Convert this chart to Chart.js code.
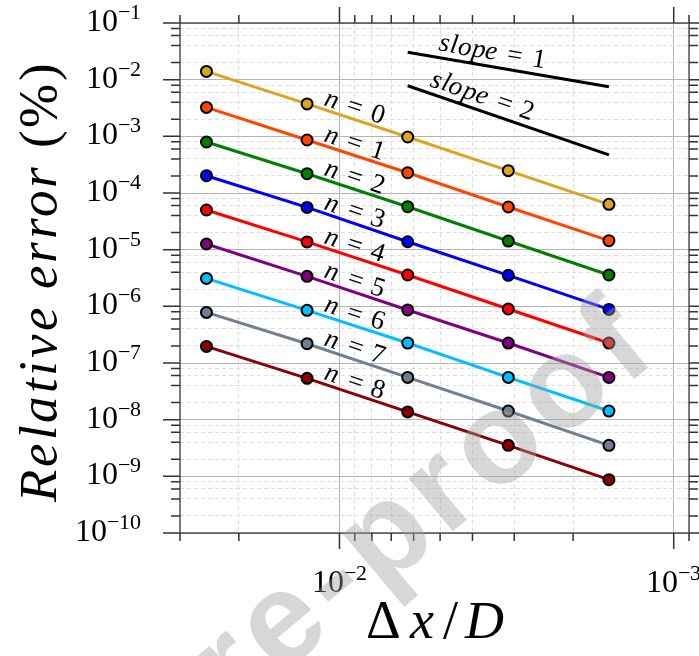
<!DOCTYPE html>
<html>
<head>
<meta charset="utf-8">
<script src="https://cdn.jsdelivr.net/npm/chart.js@4/dist/chart.umd.min.js"></script>
<style>
@font-face { font-family: 'LSerif'; font-style: normal; font-weight: 400;
  src: local('Liberation Serif'), local('LiberationSerif'), local('LiberationSerif-Regular'); }
@font-face { font-family: 'LSerif'; font-style: italic; font-weight: 400;
  src: local('Liberation Serif Italic'), local('LiberationSerif-Italic'); }
@font-face { font-family: 'LSans'; font-style: normal; font-weight: 700;
  src: local('Liberation Sans Bold'), local('LiberationSans-Bold'); }
html,body{margin:0;padding:0;background:#ffffff;}
canvas{display:block;}
#fontwarm{position:absolute;left:-9999px;top:0;}
</style>
</head>
<body>
<canvas id="c" width="699" height="656"></canvas>
<div id="fontwarm">
  <span style="font-family:LSerif">Relative 10 slope</span>
  <span style="font-family:LSerif;font-style:italic">Relative error n slope x D</span>
  <span style="font-family:LSans;font-weight:700">Journal Pre-proof</span>
</div>
<script>
// ---------------- data ----------------
const dxOverD = [0.025, 0.0125, 0.00625, 0.003125, 0.0015625];

const errN0 = [1.40e-2, 3.73e-3, 9.73e-4, 2.48e-4, 6.30e-5];
const errN1 = [3.24e-3, 8.61e-4, 2.28e-4, 5.66e-5, 1.44e-5];
const errN2 = [7.94e-4, 2.19e-4, 5.73e-5, 1.42e-5, 3.57e-6];
const errN3 = [2.02e-4, 5.57e-5, 1.38e-5, 3.52e-6, 8.83e-7];
const errN4 = [5.01e-5, 1.37e-5, 3.57e-6, 8.97e-7, 2.25e-7];
const errN5 = [1.26e-5, 3.38e-6, 8.63e-7, 2.25e-7, 5.57e-8];
const errN6 = [3.11e-6, 8.49e-7, 2.25e-7, 5.57e-8, 1.42e-8];
const errN7 = [7.82e-7, 2.19e-7, 5.57e-8, 1.42e-8, 3.52e-9];
const errN8 = [1.96e-7, 5.36e-8, 1.37e-8, 3.52e-9, 8.73e-10];

const seriesOrders = ['0', '1', '2', '3', '4', '5', '6', '7', '8'];
const seriesErrors = [errN0, errN1, errN2, errN3, errN4, errN5, errN6, errN7, errN8];
const seriesColors = ['#DAA520', '#FF4500', '#008000', '#0000FF', '#FF0000',
                      '#800080', '#00BFFF', '#708090', '#8B0000'];

const slopeX = [0.00625, 0.0015625];
const slope1Y = [3.05e-2, 7.5e-3];
const slope2Y = [7.8e-3, 4.7e-4];
const slopeOrders = ['1', '2'];

const yTickExponents = [-1, -2, -3, -4, -5, -6, -7, -8, -9, -10];
const xTickExponents = [-2, -3];
const yMinorMantissas = [2, 4, 6, 8];
const xMinorMantissas = [2, 3, 4, 5, 6, 7, 8, 9];

const X_MIN = 9e-4, X_MAX = 3e-2;
const Y_MIN = 1e-10, Y_MAX = 1e-1;

// ---------------- helpers ----------------
const SERIF = 'LSerif, "Liberation Serif", "Times New Roman", serif';
const WM_FONT = 'bold 130px LSans, "Liberation Sans", Arial, sans-serif';
const isMajor = v => Math.abs(Math.log10(v) - Math.round(Math.log10(v))) < 1e-6;

function buildLogTicks(min, max, mantissas) {
  const out = [];
  for (let e = Math.floor(Math.log10(min)) - 1; e <= Math.ceil(Math.log10(max)); e++) {
    for (const m of [1, ...mantissas]) {
      const v = m * Math.pow(10, e);
      if (v >= min * 0.999999 && v <= max * 1.000001) out.push(v);
    }
  }
  return out.sort((a, b) => a - b);
}

function drawPieces(ctx, pieces, x, y, angle, align, spacing) {
  ctx.save();
  ctx.translate(x, y);
  ctx.rotate(angle);
  ctx.textBaseline = 'alphabetic';
  ctx.textAlign = 'left';
  ctx.fillStyle = '#000';
  if ('letterSpacing' in ctx) ctx.letterSpacing = (spacing || 0) + 'px';
  const widths = [];
  let total = 0;
  pieces.forEach(p => {
    ctx.font = p.font;
    const w = ctx.measureText(p.text).width;
    widths.push(w);
    total += (p.gap || 0) + w;
  });
  let cur = align === 'center' ? -total / 2 : (align === 'right' ? -total : 0);
  pieces.forEach((p, i) => {
    cur += p.gap || 0;
    ctx.font = p.font;
    ctx.fillText(p.text, cur, p.dy || 0);
    cur += widths[i];
  });
  ctx.restore();
  return total;
}

function labelAlong(ctx, p0, p1, t, offset, pieces) {
  const ang = Math.atan2(p1.y - p0.y, p1.x - p0.x);
  const ax = p0.x + t * (p1.x - p0.x), ay = p0.y + t * (p1.y - p0.y);
  const ux = Math.sin(ang), uy = -Math.cos(ang);
  drawPieces(ctx, pieces, ax + ux * offset, ay + uy * offset, ang, 'center', 0);
}

// ---------------- datasets ----------------
const datasets = seriesErrors.map((arr, i) => ({
  label: 'n = ' + seriesOrders[i],
  data: dxOverD.map((v, j) => ({ x: v, y: arr[j] })),
  showLine: true,
  borderColor: seriesColors[i],
  backgroundColor: seriesColors[i],
  borderWidth: 3,
  pointRadius: 5.5,
  pointBorderWidth: 2,
  pointBorderColor: '#000000',
  pointBackgroundColor: seriesColors[i],
  tension: 0
}));
[slope1Y, slope2Y].forEach((arr, k) => datasets.push({
  label: 'slope = ' + slopeOrders[k],
  data: slopeX.map((v, j) => ({ x: v, y: arr[j] })),
  showLine: true,
  borderColor: '#000000',
  borderWidth: 3,
  pointRadius: 0,
  tension: 0
}));

const gridColor = c => (c.tick && isMajor(c.tick.value)) ? '#b4b4b4' : '#dedede';
const gridDash = c => (c.tick && !isMajor(c.tick.value)) ? [4, 3] : [];

// ---------------- decorations plugin ----------------
const decor = {
  id: 'decor',
  afterDatasetsDraw(chart) {
    const { ctx, chartArea: a, scales: { x, y } } = chart;
    ctx.save();
    ctx.strokeStyle = '#3a3a3a';
    ctx.lineWidth = 1.3;
    ctx.strokeRect(a.left, a.top, a.right - a.left, a.bottom - a.top);
    ctx.lineWidth = 1.5;
    ctx.strokeStyle = '#333';
    buildLogTicks(X_MIN, X_MAX, xMinorMantissas).forEach(v => {
      const px = x.getPixelForValue(v);
      const len = isMajor(v) ? 16 : 8;
      ctx.beginPath();
      ctx.moveTo(px, a.bottom); ctx.lineTo(px, a.bottom + len);
      ctx.moveTo(px, a.top); ctx.lineTo(px, a.top - len);
      ctx.stroke();
    });
    buildLogTicks(Y_MIN, Y_MAX, yMinorMantissas).forEach(v => {
      const py = y.getPixelForValue(v);
      const len = isMajor(v) ? 17 : 9;
      ctx.beginPath();
      ctx.moveTo(a.left, py); ctx.lineTo(a.left - len, py);
      ctx.moveTo(a.right, py); ctx.lineTo(a.right + len, py);
      ctx.stroke();
    });
    ctx.restore();

    // tick labels
    const bigF = '32px ' + SERIF, supF = '22px ' + SERIF;
    yTickExponents.forEach(e => {
      const py = y.getPixelForValue(Math.pow(10, e));
      drawPieces(ctx, [
        { text: '10', font: bigF },
        { text: '\u2212' + Math.abs(e), font: supF, dy: -12 }
      ], 141, py + 8, 0, 'right', 0);
    });
    xTickExponents.forEach(e => {
      const px = x.getPixelForValue(Math.pow(10, e));
      drawPieces(ctx, [
        { text: '10', font: bigF },
        { text: '\u2212' + Math.abs(e), font: supF, dy: -12 }
      ], px, 592, 0, 'center', 0);
    });

    // axis titles
    drawPieces(ctx, [
      { text: 'Relative error', font: 'italic 53px ' + SERIF },
      { text: '(%)', font: '53px ' + SERIF, gap: 16 }
    ], 56, 281, -Math.PI / 2, 'center', 2.6);
    drawPieces(ctx, [
      { text: '\u0394', font: '54px ' + SERIF },
      { text: 'x', font: 'italic 54px ' + SERIF, gap: 9 },
      { text: '/', font: '54px ' + SERIF, gap: 9 },
      { text: 'D', font: 'italic 54px ' + SERIF, gap: 7 }
    ], 435, 638, 0, 'center', 0);

    // series annotations
    const lf = 'italic 27px ' + SERIF, rf = '27px ' + SERIF;
    seriesErrors.forEach((arr, i) => {
      const p0 = { x: x.getPixelForValue(dxOverD[1]), y: y.getPixelForValue(arr[1]) };
      const p1 = { x: x.getPixelForValue(dxOverD[2]), y: y.getPixelForValue(arr[2]) };
      labelAlong(ctx, p0, p1, 0.44, 4, [
        { text: 'n', font: lf },
        { text: '=', font: rf, gap: 10 },
        { text: seriesOrders[i], font: rf, gap: 10 }
      ]);
    });
    [slope1Y, slope2Y].forEach((arr, k) => {
      const p0 = { x: x.getPixelForValue(slopeX[0]), y: y.getPixelForValue(arr[0]) };
      const p1 = { x: x.getPixelForValue(slopeX[1]), y: y.getPixelForValue(arr[1]) };
      labelAlong(ctx, p0, p1, k === 0 ? 0.41 : 0.35, 7, [
        { text: 'slope', font: lf },
        { text: '=', font: rf, gap: 10 },
        { text: slopeOrders[k], font: rf, gap: 10 }
      ]);
    });
  },
  afterDraw(chart) {
    const ctx = chart.ctx;
    ctx.save();
    ctx.translate(664, 354);
    ctx.rotate(-40 * Math.PI / 180);
    ctx.font = WM_FONT;
    if ('letterSpacing' in ctx) ctx.letterSpacing = '8px';
    ctx.fillStyle = 'rgba(160,160,160,0.42)';
    ctx.textAlign = 'right';
    ctx.textBaseline = 'alphabetic';
    ctx.fillText('Journal Pre-proof', 0, 0);
    ctx.restore();
  }
};

// ---------------- chart ----------------
function makeChart() {
  new Chart(document.getElementById('c'), {
    type: 'scatter',
    data: { datasets },
    options: {
      responsive: false,
      animation: false,
      devicePixelRatio: 1,
      layout: { padding: { left: 180, top: 23, right: 10, bottom: 123 } },
      plugins: { legend: { display: false }, tooltip: { enabled: false } },
      scales: {
        x: {
          type: 'logarithmic', reverse: true, min: X_MIN, max: X_MAX, bounds: 'data',
          afterBuildTicks: s => { s.ticks = buildLogTicks(X_MIN, X_MAX, xMinorMantissas).map(v => ({ value: v })); },
          afterFit: s => { s.height = 0; },
          ticks: { display: false },
          grid: { drawTicks: false, lineWidth: 1, color: gridColor },
          border: { display: false, dash: gridDash }
        },
        y: {
          type: 'logarithmic', min: Y_MIN, max: Y_MAX, bounds: 'data',
          afterBuildTicks: s => { s.ticks = buildLogTicks(Y_MIN, Y_MAX, yMinorMantissas).map(v => ({ value: v })); },
          afterFit: s => { s.width = 0; },
          ticks: { display: false },
          grid: { drawTicks: false, lineWidth: 1, color: gridColor },
          border: { display: false, dash: gridDash }
        }
      }
    },
    plugins: [decor]
  });
}

(async function init() {
  const specs = ['32px LSerif', 'italic 32px LSerif', 'bold 130px LSans'];
  try { await Promise.all(specs.map(s => document.fonts.load(s))); await document.fonts.ready; } catch (e) {}
  makeChart();
})();
</script>
</body>
</html>
